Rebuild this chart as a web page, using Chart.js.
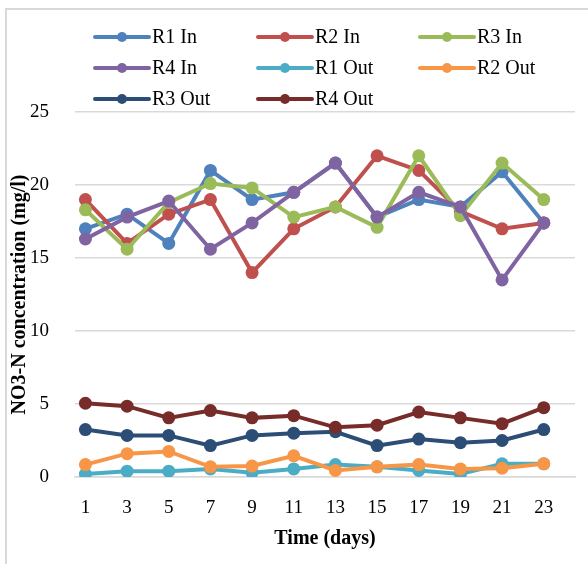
<!DOCTYPE html>
<html>
<head>
<meta charset="utf-8">
<script src="https://cdn.jsdelivr.net/npm/chart.js@4"></script>
<style>
  body { margin: 0; background: #fff; }
  #wrap { position: relative; width: 588px; height: 564px; overflow: hidden; }
  #frame { position: absolute; left: 5px; top: 8px; width: 700px; height: 700px; border: 2px solid #d9d9d9; }
  canvas { position: absolute; left: 0; top: 0; }
</style>
</head>
<body>
<div id="wrap">
  <div id="frame"></div>
  <canvas id="no3Chart" width="588" height="564"></canvas>
</div>
<script>
// Sampling days
const days = [1, 3, 5, 7, 9, 11, 13, 15, 17, 19, 21, 23];
const yTicks = [0, 5, 10, 15, 20, 25];

// NO3-N (mg/l)
const r1In  = [17.0, 18.0, 16.0, 21.0, 19.0, 19.5, 21.5, 17.8, 19.0, 18.5, 20.9, 17.4];
const r2In  = [19.0, 16.0, 18.0, 19.0, 14.0, 17.0, 18.5, 22.0, 21.0, 18.2, 17.0, 17.4];
const r3In  = [18.3, 15.6, 18.8, 20.1, 19.8, 17.8, 18.5, 17.1, 22.0, 17.9, 21.5, 19.0];
const r4In  = [16.3, 17.8, 18.9, 15.6, 17.4, 19.5, 21.5, 17.8, 19.5, 18.5, 13.5, 17.4];
const r1Out = [0.2, 0.4, 0.4, 0.55, 0.3, 0.55, 0.85, 0.7, 0.45, 0.2, 0.9, 0.9];
const r2Out = [0.85, 1.6, 1.75, 0.7, 0.75, 1.45, 0.45, 0.7, 0.85, 0.55, 0.6, 0.9];
const r3Out = [3.25, 2.85, 2.85, 2.15, 2.85, 3.0, 3.1, 2.15, 2.6, 2.35, 2.5, 3.25];
const r4Out = [5.05, 4.85, 4.05, 4.55, 4.05, 4.2, 3.4, 3.55, 4.45, 4.05, 3.65, 4.75];

const seriesNames = ['R1 In', 'R2 In', 'R3 In', 'R4 In', 'R1 Out', 'R2 Out', 'R3 Out', 'R4 Out'];
const seriesData = [r1In, r2In, r3In, r4In, r1Out, r2Out, r3Out, r4Out];
const seriesColors = ['#4F81BD', '#C0504D', '#9BBB59', '#8064A2', '#4BACC6', '#F79646', '#2C4D75', '#772C2A'];

const FONT = 'Liberation Serif, Times New Roman, serif';

// Legend in three columns above the plot, Excel style
const excelLegend = {
    id: 'excelLegend',
    afterDraw(chart) {
        const ctx = chart.ctx;
        const colX = [95, 258, 420];
        const rowY = [37, 68, 99];
        ctx.save();
        chart.data.datasets.forEach((ds, i) => {
            const x = colX[i % 3];
            const y = rowY[Math.floor(i / 3)];
            ctx.strokeStyle = ds.borderColor;
            ctx.lineWidth = 4;
            ctx.lineCap = 'round';
            ctx.beginPath();
            ctx.moveTo(x, y);
            ctx.lineTo(x + 54, y);
            ctx.stroke();
            ctx.fillStyle = ds.borderColor;
            ctx.beginPath();
            ctx.arc(x + 27, y, 5, 0, Math.PI * 2);
            ctx.fill();
            ctx.fillStyle = '#000';
            ctx.font = '20px ' + FONT;
            ctx.textBaseline = 'middle';
            ctx.fillText(ds.label, x + 57, y + 1);
        });
        ctx.restore();
    }
};

const ctx = document.getElementById('no3Chart').getContext('2d');
new Chart(ctx, {
    type: 'line',
    data: {
        datasets: seriesNames.map((name, i) => ({
            label: name,
            data: seriesData[i].map((v, k) => ({ x: days[k], y: v })),
            borderColor: seriesColors[i],
            backgroundColor: seriesColors[i],
            borderWidth: 4,
            pointRadius: 6.5,
            pointBorderWidth: 0,
            tension: 0,
            order: seriesNames.length - i
        }))
    },
    options: {
        responsive: false,
        animation: false,
        layout: { padding: { left: 0, right: 13, top: 112, bottom: 0 } },
        plugins: { legend: { display: false }, tooltip: { enabled: false } },
        scales: {
            x: {
                type: 'linear',
                min: 0.5,
                max: 24.5,
                afterBuildTicks: scale => { scale.ticks = days.map(v => ({ value: v })); },
                afterFit: scale => { scale.height = 87; },
                grid: { display: false },
                border: { display: true, color: '#d9d9d9', width: 1.5 },
                ticks: { color: '#000', font: { family: FONT, size: 19 }, padding: 12, maxRotation: 0, autoSkip: false },
                title: { display: true, text: 'Time (days)', color: '#000', font: { family: FONT, size: 20, weight: 'bold' }, padding: { top: 0, bottom: 13 } }
            },
            y: {
                min: 0,
                max: 25,
                afterBuildTicks: scale => { scale.ticks = yTicks.map(v => ({ value: v })); },
                afterFit: scale => { scale.width = 75; },
                grid: { color: '#d9d9d9', lineWidth: 1.5, drawTicks: false },
                border: { display: false },
                ticks: { color: '#000', font: { family: FONT, size: 19 }, padding: 26 },
                title: { display: true, text: 'NO3-N concentration (mg/l)', color: '#000', font: { family: FONT, size: 20, weight: 'bold' }, padding: { top: 8, bottom: 0 } }
            }
        }
    },
    plugins: [excelLegend]
});
</script>
</body>
</html>
